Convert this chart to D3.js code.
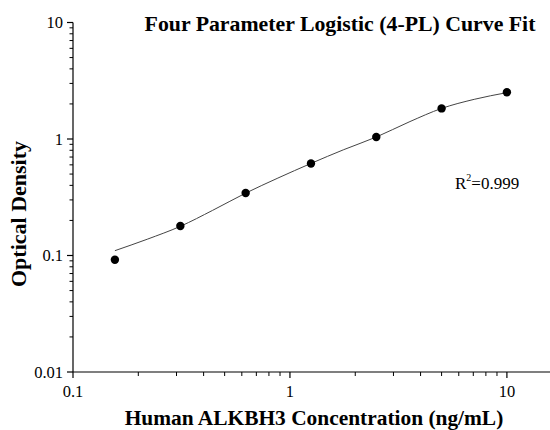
<!DOCTYPE html>
<html>
<head>
<meta charset="utf-8">
<script src="https://d3js.org/d3.v7.min.js"></script>
<style>
  body { margin: 0; background: #fff; }
  text { font-family: "Liberation Serif", "Times New Roman", serif; fill: #000; }
</style>
</head>
<body>
<script>
// standard concentrations (ng/mL) and measured OD
var conc = [0.156, 0.3125, 0.625, 1.25, 2.5, 5, 10];
var od = [0.092, 0.179, 0.344, 0.617, 1.04, 1.83, 2.52];

// fitted curve
var curveX = [0.156, 0.22, 0.3125, 0.44, 0.625, 0.88, 1.25, 1.77, 2.5, 3.54, 5, 7.07, 10];
var curveY = [0.110, 0.138, 0.178, 0.244, 0.343, 0.462, 0.617, 0.81, 1.04, 1.40, 1.83, 2.19, 2.50];

var xTicks = [0.1, 1, 10];
var yTicks = [0.01, 0.1, 1, 10];

var W = 550, H = 430;
var svg = d3.select("body").append("svg")
    .attr("width", W).attr("height", H);

var x = d3.scaleLog().domain([0.1, 15.8]).range([73, 550]);
var y = d3.scaleLog().domain([0.01, 10]).range([372, 22.5]);

// minor ticks 2..9 per decade
function minors(lo, hi, limit) {
    var out = [];
    for (var d = lo; d < hi; d *= 10) {
        for (var k = 2; k <= 9; k++) {
            if (d * k <= limit) out.push(d * k);
        }
    }
    return out;
}

// x axis
var gx = svg.append("g").attr("transform", "translate(0,372)");
gx.append("line").attr("x1", 73).attr("x2", 550).attr("stroke", "#000").attr("stroke-width", 1.2);
gx.selectAll(".maj").data(xTicks).enter().append("line")
    .attr("x1", d => x(d)).attr("x2", d => x(d))
    .attr("y1", 0).attr("y2", 6).attr("stroke", "#000").attr("stroke-width", 1.2);
gx.selectAll(".min").data(minors(0.1, 100, 15.8)).enter().append("line")
    .attr("x1", d => x(d)).attr("x2", d => x(d))
    .attr("y1", 0).attr("y2", 4).attr("stroke", "#000");
gx.selectAll(".lab").data(xTicks).enter().append("text")
    .attr("x", d => x(d)).attr("y", 25)
    .attr("text-anchor", "middle").style("font-size", "16.5px")
    .text(d => d);

// y axis
var gy = svg.append("g").attr("transform", "translate(73,0)");
gy.append("line").attr("y1", 22.5).attr("y2", 372).attr("stroke", "#000").attr("stroke-width", 1.2);
gy.selectAll(".maj").data(yTicks).enter().append("line")
    .attr("y1", d => y(d)).attr("y2", d => y(d))
    .attr("x1", 0).attr("x2", -6).attr("stroke", "#000").attr("stroke-width", 1.2);
gy.selectAll(".min").data(minors(0.01, 10, 10)).enter().append("line")
    .attr("y1", d => y(d)).attr("y2", d => y(d))
    .attr("x1", 0).attr("x2", -3.5).attr("stroke", "#000");
gy.selectAll(".lab").data(yTicks).enter().append("text")
    .attr("x", -10).attr("y", d => y(d) + 5.5)
    .attr("text-anchor", "end").style("font-size", "16.5px")
    .text(d => d);

// fitted curve
var pts = curveX.map((v, i) => [v, curveY[i]]);
svg.append("path")
    .datum(pts)
    .attr("fill", "none").attr("stroke", "#444").attr("stroke-width", 1)
    .attr("d", d3.line().x(d => x(d[0])).y(d => y(d[1])).curve(d3.curveMonotoneX));

// data points
svg.selectAll(".pt").data(conc).enter().append("circle")
    .attr("cx", d => x(d)).attr("cy", (d, i) => y(od[i]))
    .attr("r", 4.2).attr("fill", "#000");

// titles
svg.append("text").attr("x", 340).attr("y", 31)
    .attr("text-anchor", "middle").style("font-size", "21.8px").style("font-weight", "bold")
    .text("Four Parameter Logistic (4-PL) Curve Fit");

svg.append("text").attr("x", 314).attr("y", 425)
    .attr("text-anchor", "middle").style("font-size", "21.4px").style("font-weight", "bold")
    .text("Human ALKBH3 Concentration (ng/mL)");

svg.append("text")
    .attr("transform", "translate(26,214) rotate(-90)")
    .attr("text-anchor", "middle").style("font-size", "22px").style("font-weight", "bold")
    .text("Optical Density");

var r2 = svg.append("text").attr("x", 455).attr("y", 189).style("font-size", "17px");
r2.append("tspan").text("R");
r2.append("tspan").attr("dy", -8).style("font-size", "10px").text("2");
r2.append("tspan").attr("dy", 8).text("=0.999");
</script>
</body>
</html>
